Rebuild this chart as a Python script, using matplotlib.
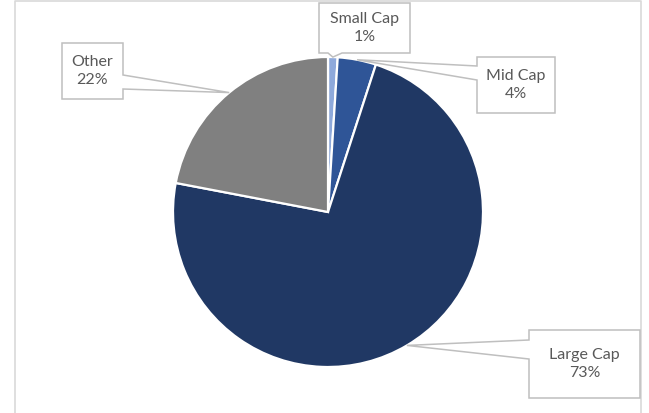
import numpy as np
import matplotlib.pyplot as plt
from matplotlib.patches import Polygon

# data
labels = ["Small Cap", "Mid Cap", "Large Cap", "Other"]
shares = [1, 4, 73, 22]
colors = ["#8EA9DB", "#2F5597", "#203864", "#808080"]

W, H = 649, 413
CX, CY, R = 328, 212, 155  # pie centre / radius in pixels (top-down)

# label boxes: (x0, y0, x1, y1) top-down px, notch side, notch span
boxes = {
    "Small Cap": ((319, 3, 410, 53), "bottom", (328, 342)),
    "Mid Cap": ((477, 57, 555, 113), "left", (66, 80)),
    "Large Cap": ((529, 330, 640, 398), "left", (340, 359)),
    "Other": ((62, 43, 123, 99), "right", (75, 89)),
}

plt.rcParams["font.family"] = ["Lato", "DejaVu Sans"]
fig = plt.figure(figsize=(W / 100, H / 100), dpi=100)
ax = fig.add_axes([0, 0, 1, 1])


def fy(y):
    return H - y


# frame of the chart area
ax.plot([15, 15, 641, 641], [0, fy(1), fy(1), 0], color="#D9D9D9", lw=1.2, zorder=1)

ax.pie(
    shares,
    colors=colors,
    startangle=90,
    counterclock=False,
    center=(CX, fy(CY)),
    radius=R,
    wedgeprops=dict(edgecolor="white", linewidth=1.6),
    frame=True,
)
ax.set_xlim(0, W)
ax.set_ylim(0, H)
ax.set_aspect("equal")
ax.axis("off")

total = sum(shares)
cum = 0
for lab, val in zip(labels, shares):
    mid = (cum + val / 2) / total * 2 * np.pi
    cum += val
    tip = (CX + R * np.sin(mid), fy(CY - R * np.cos(mid)))
    (x0, y0, x1, y1), side, (n0, n1) = boxes[lab]
    if side == "right":
        pts = [(x0, y0), (x1, y0), (x1, n0), None, (x1, n1), (x1, y1), (x0, y1)]
    elif side == "left":
        pts = [(x0, y0), (x1, y0), (x1, y1), (x0, y1), (x0, n1), None, (x0, n0)]
    else:
        pts = [(x0, y0), (x1, y0), (x1, y1), (n1, y1), None, (n0, y1), (x0, y1)]
    verts = [tip if p is None else (p[0], fy(p[1])) for p in pts]
    ax.add_patch(Polygon(verts, closed=True, facecolor="white",
                         edgecolor="#BFBFBF", lw=1.1, zorder=3))
    ax.text((x0 + x1) / 2, fy((y0 + y1) / 2), f"{lab}\n{val}%",
            ha="center", va="center", fontsize=11.5, color="#595959",
            linespacing=1.45, zorder=4)

fig.savefig("out.png", dpi=100)
